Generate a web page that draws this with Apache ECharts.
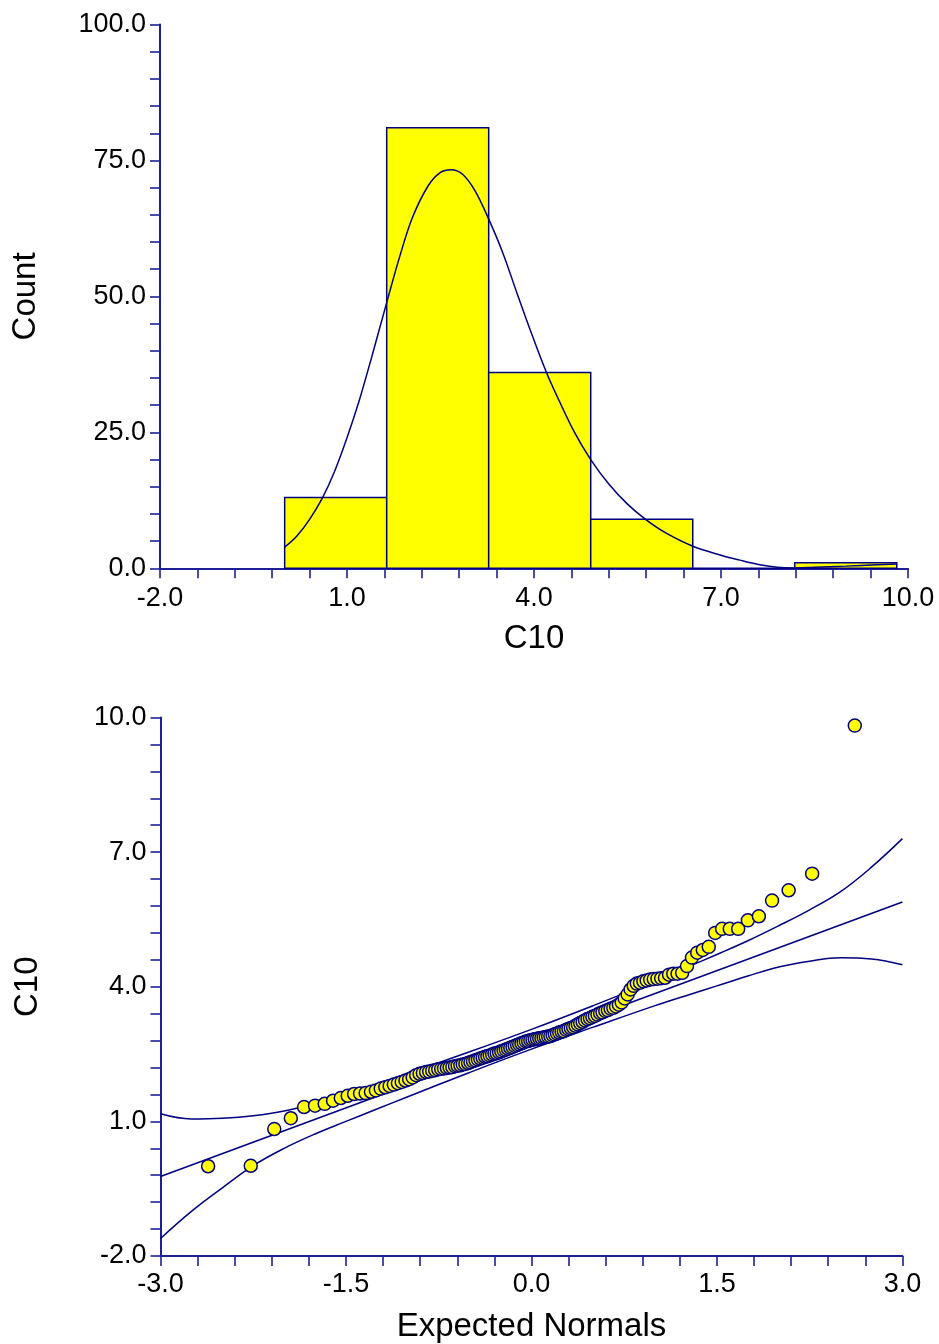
<!DOCTYPE html>
<html><head><meta charset="utf-8">
<script src="https://cdn.jsdelivr.net/npm/echarts@6/dist/echarts.min.js"></script>
<style>html,body{margin:0;padding:0;background:#fff}#c{width:939px;height:1344px}</style>
</head><body><div id="c"></div>
<script>
// ---- Histogram of C10 ----
const binStart = [0.0, 1.637, 3.273, 4.91, 6.547, 8.183];
const binEnd   = [1.637, 3.273, 4.91, 6.547, 8.183, 9.82];
const binCount = [13, 81, 36, 9, 0, 1];
const densX = [0.0, 0.2, 0.4, 0.6, 0.8, 1.0, 1.2, 1.4, 1.64, 1.85, 2.05, 2.3, 2.5, 2.67, 2.85, 3.05, 3.27, 3.5, 3.73, 3.95, 4.2, 4.4, 4.65, 4.91, 5.2, 5.5, 5.79, 6.1, 6.54, 7.0, 7.3, 7.6, 7.9, 8.15, 8.5, 9.0, 9.5, 9.82];
const densY = [3.9, 6.0, 9.0, 12.8, 17.8, 24, 31, 39, 49, 57.5, 64.5, 70.3, 72.8, 73.3, 72.5, 69.5, 64.3, 58, 50.5, 43.5, 36, 30.9, 25, 20, 15.5, 11.8, 9, 6.6, 4.1, 2.4, 1.5, 0.7, 0.2, 0.05, 0.2, 0.4, 0.65, 0.8];
const histXTicks = [-2, 1, 4, 7, 10];
const histYTicks = [0, 25, 50, 75, 100];

// ---- Normal probability plot of C10 ----
const normalScores = [-2.615,-2.27,-2.08,-1.946,-1.839,-1.750,-1.672,-1.604,-1.542,-1.486,-1.434,-1.386,-1.341,-1.298,-1.258,-1.219,-1.182,-1.147,-1.113,-1.080,-1.049,-1.019,-0.989,-0.960,-0.932,-0.905,-0.878,-0.852,-0.827,-0.802,-0.778,-0.754,-0.730,-0.707,-0.684,-0.662,-0.640,-0.618,-0.597,-0.575,-0.555,-0.534,-0.513,-0.493,-0.473,-0.453,-0.433,-0.414,-0.394,-0.375,-0.356,-0.337,-0.318,-0.299,-0.281,-0.262,-0.244,-0.225,-0.207,-0.189,-0.171,-0.153,-0.135,-0.116,-0.099,-0.081,-0.063,-0.045,-0.027,-0.009,
0.009,0.027,0.045,0.063,0.081,0.099,0.116,0.135,0.153,0.171,0.189,0.207,0.225,0.244,0.262,0.281,0.299,0.318,0.337,0.356,0.375,0.394,0.414,0.433,0.453,0.473,0.493,0.513,0.534,0.555,0.575,0.597,0.618,0.640,0.662,0.684,0.707,0.730,0.754,0.778,0.802,0.827,0.852,0.878,0.905,0.932,0.960,0.989,1.019,1.049,1.080,1.113,1.147,1.182,1.219,1.258,1.298,1.341,1.386,1.434,1.486,1.542,1.604,1.672,1.750,1.839,1.946,2.08,2.27,2.615];
const c10Sorted = [0.00,0.01,0.83,1.07,1.32,1.35,1.39,1.46,1.52,1.57,1.61,1.62,1.63,
1.66,1.69,1.73,1.76,1.79,1.82,1.85,1.88,1.91,1.94,
1.98,2.03,2.06,2.08,2.10,2.11,2.13,2.14,2.16,2.17,
2.18,2.19,2.20,2.21,2.23,2.24,2.25,2.27,2.28,2.30,
2.32,2.34,2.36,2.38,2.40,2.42,2.44,2.45,2.47,2.49,
2.51,2.52,2.54,2.56,2.58,2.60,2.62,2.64,2.66,2.68,
2.70,2.72,2.74,2.76,2.78,2.79,2.81,
2.82,2.83,2.84,2.85,2.86,2.87,2.88,2.89,2.90,2.92,
2.94,2.96,2.98,3.00,3.01,3.04,3.06,3.08,3.10,3.13,
3.16,3.19,3.22,3.25,
3.28,3.30,3.33,3.35,3.38,3.41,3.43,3.46,3.48,3.51,
3.53,3.56,3.60,3.65,3.74,3.83,3.94,4.02,4.07,4.09,
4.12,4.14,4.16,4.17,4.18,4.19,4.20,4.27,4.29,4.29,
4.31,4.46,4.65,4.76,4.82,4.89,
5.20,5.29,5.29,5.29,5.48,5.57,5.92,6.15,6.52,9.82];
const refX = [-3, 3];
const refY = [-0.23, 5.89];
const bandX  = [-3.0, -2.75, -2.5, -2.25, -2.0, -1.75, -1.5, -1.25, -1.0, -0.5, 0.0, 0.5, 1.0, 1.25, 1.5, 1.75, 2.0, 2.25, 2.5, 2.75, 3.0];
const upperY = [1.17, 1.055, 1.07, 1.125, 1.23, 1.405, 1.60, 1.835, 2.07, 2.55, 3.05, 3.58, 4.13, 4.425, 4.72, 5.025, 5.36, 5.715, 6.12, 6.665, 7.30];
const lowerY = [-1.61, -1.005, -0.48, 0.015, 0.40, 0.72, 1.00, 1.275, 1.55, 2.09, 2.61, 3.10, 3.58, 3.80, 4.02, 4.24, 4.44, 4.57, 4.645, 4.62, 4.49];
const qqXTicks = [-3, -1.5, 0, 1.5, 3];
const qqYTicks = [-2, 1, 4, 7, 10];

const NAVY = '#000080';
const AXIS = '#1e1e96';
const FONT = 'Liberation Sans, Arial, sans-serif';
const zip = (a, b) => a.map((v, i) => [v, b[i]]);

function axisBase(ticks, name, gap, isY, labelMargin) {
  return {
    type: 'value',
    min: ticks[0], max: ticks[ticks.length - 1], interval: ticks[1] - ticks[0],
    axisLine: { show: true, onZero: false, lineStyle: { color: AXIS, width: 2 } },
    axisTick: { show: true, inside: false, length: 10, lineStyle: { color: AXIS, width: 1.6 } },
    minorTick: { show: true, splitNumber: 5, length: 10, lineStyle: { color: AXIS, width: 1.6 } },
    splitLine: { show: false },
    minorSplitLine: { show: false },
    axisLabel: { color: '#000', fontFamily: FONT, fontSize: 27, margin: labelMargin,
      formatter: v => v.toFixed(1), showMinLabel: true, showMaxLabel: true },
    name: name, nameLocation: 'middle', nameGap: gap,
    nameRotate: isY ? 90 : 0,
    nameTextStyle: { color: '#000', fontFamily: FONT, fontSize: 33 }
  };
}

const chart = echarts.init(document.getElementById('c'), null, { renderer: 'canvas' });
chart.setOption({
  animation: false,
  backgroundColor: '#fff',
  grid: [
    { left: 160, right: 31, top: 24.5, bottom: 775.7 },
    { left: 160.5, right: 36.6, top: 717.5, bottom: 87.5 }
  ],
  xAxis: [
    Object.assign(axisBase(histXTicks, 'C10', 54, false, 17), { gridIndex: 0 }),
    Object.assign(axisBase(qqXTicks, 'Expected Normals', 54, false, 15), { gridIndex: 1 })
  ],
  yAxis: [
    Object.assign(axisBase(histYTicks, 'Count', 118, true, 14), { gridIndex: 0 }),
    Object.assign(axisBase(qqYTicks, 'C10', 116, true, 14), { gridIndex: 1 })
  ],
  series: [
    {
      type: 'custom', xAxisIndex: 0, yAxisIndex: 0,
      data: binStart.map((s, i) => [s, binEnd[i], binCount[i]]),
      encode: { x: [0, 1], y: 2 },
      renderItem: (params, api) => {
        const p0 = api.coord([api.value(0), api.value(2)]);
        const p1 = api.coord([api.value(1), 0]);
        return { type: 'rect',
          shape: { x: p0[0], y: p0[1], width: p1[0] - p0[0], height: p1[1] - p0[1] },
          style: { fill: '#ffff00', stroke: NAVY, lineWidth: 1.5 } };
      },
      z: 2
    },
    {
      type: 'line', xAxisIndex: 0, yAxisIndex: 0, data: zip(densX, densY),
      showSymbol: false, smooth: 0.35, lineStyle: { color: NAVY, width: 1.5 }, z: 3
    },
    { type: 'line', xAxisIndex: 1, yAxisIndex: 1, data: zip(bandX, upperY), showSymbol: false, smooth: 0.4,
      lineStyle: { color: NAVY, width: 1.5 }, z: 2 },
    { type: 'line', xAxisIndex: 1, yAxisIndex: 1, data: zip(refX, refY), showSymbol: false,
      lineStyle: { color: NAVY, width: 1.5 }, z: 2 },
    { type: 'line', xAxisIndex: 1, yAxisIndex: 1, data: zip(bandX, lowerY), showSymbol: false, smooth: 0.4,
      lineStyle: { color: NAVY, width: 1.5 }, z: 2 },
    {
      type: 'scatter', xAxisIndex: 1, yAxisIndex: 1, data: zip(normalScores, c10Sorted),
      symbol: 'circle', symbolSize: 13,
      itemStyle: { color: '#ffff00', borderColor: NAVY, borderWidth: 1.5, opacity: 1 }, z: 3
    }
  ]
});
</script></body></html>
